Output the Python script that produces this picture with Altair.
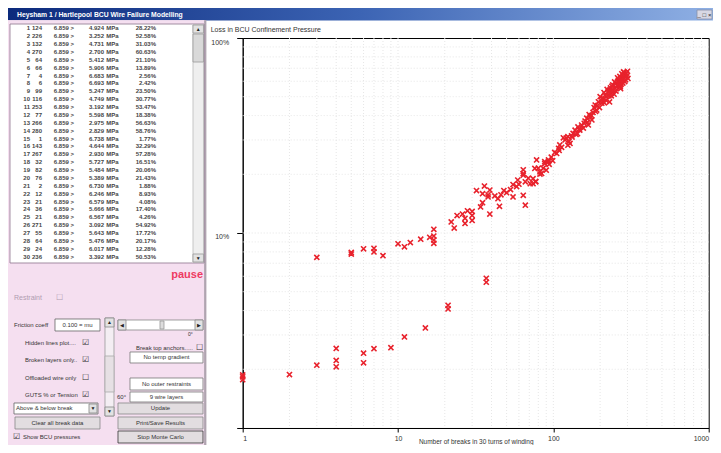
import altair as alt
import pandas as pd

# ---------------- scatter data: breaks vs loss in BCU confinement pressure (%) ----------------
low_breaks = [1, 1, 3, 4, 4, 6, 7, 9, 11, 15, 37, 37]
low_loss = [1.83, 1.87, 2.10, 2.22, 2.06, 2.16, 2.55, 2.58, 2.93, 3.26, 5.86, 5.59]

mid_breaks = [3, 5, 5, 6, 7, 7, 8, 10, 11, 14, 16, 17, 17, 17, 17]
mid_loss = [7.5, 7.8, 7.95, 8.3, 8.35, 8.0, 7.65, 8.8, 8.5, 9.3, 9.5, 9.65, 9.2, 8.85, 10.45]

up_breaks = [22, 23, 26, 27, 28, 27, 30, 30, 30, 34, 35, 35, 38, 39, 39, 38, 44, 45, 46, 50,
             53, 55, 58, 59, 64, 66, 64, 69, 71, 74, 77, 78, 80, 82, 84, 88, 88, 93, 93, 102,
             108, 110, 119, 124, 128, 134, 138, 144, 152, 156, 164, 173, 177, 186, 195, 205, 200, 210, 215, 225,
             230, 236, 241, 254, 262, 275, 281, 288, 295, 270, 250, 220, 190, 168, 148, 121, 105, 230, 160, 170,
             180, 183, 192, 198, 208, 212, 218, 222, 228, 233, 238, 244, 248, 256, 259, 265, 268, 273, 278, 284,
             286, 290, 292, 298, 300, 302, 283, 276, 262, 246, 239, 213, 203, 187, 176, 166, 158, 146, 140, 131,
             126, 113, 109, 97, 94, 86, 90, 74, 60, 48, 42]
up_loss = [11.4, 10.6, 12.5, 11.9, 13.0, 11.2, 12.9, 12.3, 11.6, 13.6, 14.3, 15.9, 15.3, 16.6, 12.5, 15.7, 15.0, 13.7, 15.7, 16.1,
           16.7, 15.3, 17.3, 18.7, 19.8, 18.3, 15.6, 19.1, 17.9, 17.9, 18.3, 23.7, 21.5, 20.6, 20.2, 23.2, 22.7, 23.7, 23.2, 25.9,
           27.2, 28.3, 30.0, 31.2, 28.8, 32.4, 33.7, 35.0, 35.8, 34.5, 38.8, 39.5, 38.0, 45.3, 47.1, 46.3, 50.0, 49.0, 51.0, 52.9,
           54.0, 52.0, 57.5, 58.6, 60.8, 62.0, 64.5, 59.8, 66.0, 56.2, 55.2, 50.1, 42.7, 35.8, 33.7, 30.7, 25.6, 47.0, 37.5, 40.5,
           41.5, 44.0, 45.0, 44.0, 48.5, 52.5, 48.0, 54.5, 50.5, 55.5, 56.5, 54.0, 59.5, 57.0, 62.5, 59.0, 63.5, 58.0, 60.5, 62.5,
           66.5, 63.5, 61.0, 64.0, 67.5, 62.0, 67.0, 65.5, 57.5, 51.5, 53.5, 46.5, 48.0, 42.0, 40.0, 37.0, 36.5, 34.0, 32.0, 31.5,
           29.5, 27.5, 26.5, 24.5, 22.5, 21.5, 21.0, 19.0, 17.8, 16.5, 15.5]

# ---------------- list box (30 latest Monte Carlo runs) ----------------
tbl_breaks = [124, 226, 132, 270, 64, 66, 4, 6, 99, 116, 253, 77, 266, 280, 1,
              143, 267, 32, 82, 76, 2, 12, 21, 36, 21, 271, 55, 64, 24, 236]
tbl_start = "6.859 >"
tbl_mpa = [4.924, 3.252, 4.731, 2.700, 5.412, 5.906, 6.683, 6.693, 5.247, 4.749, 3.192, 5.598, 2.975, 2.829, 6.738,
           4.644, 2.930, 5.727, 5.484, 5.389, 6.730, 6.246, 6.579, 5.666, 6.567, 3.092, 5.643, 5.476, 6.017, 3.392]
tbl_pct = [28.22, 52.58, 31.03, 60.63, 21.10, 13.89, 2.56, 2.42, 23.50, 30.77, 53.47, 18.38, 56.63, 58.76, 1.77,
           32.29, 57.28, 16.51, 20.06, 21.43, 1.88, 8.93, 4.08, 17.40, 4.26, 54.92, 17.72, 20.17, 12.28, 50.53]

x_ticks = [1, 10, 100, 1000]
y_ticks = [1, 10, 100]
grid_x = [2, 3, 4, 5, 6, 7, 8, 9, 10, 20, 30, 40, 50, 60, 70, 80, 90, 100, 200, 300, 400, 500, 600, 700, 800, 900]
grid_y = [2, 3, 4, 5, 6, 7, 8, 9, 10, 20, 30, 40, 50, 60, 70, 80, 90]

window_title = "Heysham 1 / Hartlepool BCU Wire Failure Modelling"
chart_title = "Loss in BCU Confinement Pressure"
x_title = "Number of breaks in 30 turns of winding"

# ---------------- layout (page pixels) ----------------
OX, OY = 242.7, 38.0   # page position of plot origin
W, H = 466, 390
FONT = "Liberation Sans"
PINK = "#f5dff0"
RED = "#e8222c"


def px(v):
    return round(v - OX, 2)


def py(v):
    return round(v - OY, 2)


scatter_df = pd.DataFrame({
    "breaks": low_breaks + mid_breaks + up_breaks + tbl_breaks,
    "loss": low_loss + mid_loss + up_loss + tbl_pct,
})

xscale = alt.Scale(type="log", domain=[1, 1000], nice=False)
yscale = alt.Scale(type="log", domain=[1, 100], nice=False)

x_axis = alt.Axis(values=x_ticks, labelExpr="format(datum.value, 'd')", labelFlush=True,
                  tickSize=4, labelPadding=3, titleY=14, titleBaseline="middle",
                  titleFontWeight="normal", titleFontSize=6.5, titleFont=FONT, titleColor="#333333")
y_axis = alt.Axis(values=y_ticks,
                  labelExpr="datum.value >= 10 ? format(datum.value, 'd') + '%' : ''",
                  tickSize=6, labelPadding=8, labelBaseline="top")

gx = alt.Chart(pd.DataFrame({"gx": grid_x})).mark_rule(
    color="#e6e6e6", strokeDash=[1, 2], strokeWidth=1
).encode(x=alt.X("gx:Q", scale=xscale, title=x_title, axis=x_axis))

gy = alt.Chart(pd.DataFrame({"gy": grid_y})).mark_rule(
    color="#e6e6e6", strokeDash=[1, 2], strokeWidth=1
).encode(y=alt.Y("gy:Q", scale=yscale, title=None, axis=y_axis))

scatter = alt.Chart(scatter_df).mark_point(
    shape="M-1,-1L1,1M-1,1L1,-1", filled=False, color=RED, strokeWidth=1.6, size=26, opacity=1
).encode(
    x=alt.X("breaks:Q", scale=xscale, title=x_title, axis=x_axis),
    y=alt.Y("loss:Q", scale=yscale, title=None, axis=y_axis),
)

# ---------------- window chrome ----------------
titlebar = alt.Chart(pd.DataFrame({"k": [0]})).mark_rect(
    color=alt.LinearGradient(gradient="linear", x1=0, x2=1, y1=0, y2=0,
                             stops=[alt.GradientStop(color="#0c2a7c", offset=0),
                                    alt.GradientStop(color="#3c64b4", offset=0.5),
                                    alt.GradientStop(color="#8fb0e4", offset=1)])
).encode(x=alt.value(px(8)), x2=alt.value(px(713)), y=alt.value(py(8)), y2=alt.value(py(20.5)))

rects = [
    # x, y, x2, y2, fill, stroke (page pixels)
    (8, 20.5, 205, 446, PINK, PINK),
    (204.5, 20.5, 206, 446, "#b0a4b0", "#b0a4b0"),
    (697, 10, 712, 19, "#d8d8e4", "#8890a8"),
    (10, 24, 204, 263, "#ffffff", "#8c748c"),
    (193, 25, 203.5, 262, "#efefef", "#bbbbbb"),
    (193, 25, 203.5, 33, "#e2e2e2", "#999999"),
    (193, 34, 203.5, 62, "#d9d9d9", "#999999"),
    (193, 254, 203.5, 262, "#e2e2e2", "#999999"),
    (55, 319, 100, 331, "#ffffff", "#666666"),
    (105, 318, 114, 416, "#f4eef3", "#999999"),
    (105, 318, 114, 327, "#e2e2e2", "#888888"),
    (105, 356, 114, 392, "#e6e0e4", "#aaaaaa"),
    (105, 407, 114, 416, "#e2e2e2", "#888888"),
    (118, 320, 203, 330, "#ffffff", "#888888"),
    (118, 320, 126, 330, "#e2e2e2", "#888888"),
    (195, 320, 203, 330, "#e2e2e2", "#888888"),
    (160, 321, 164, 329, "#dddddd", "#999999"),
    (14, 403, 98, 414, "#ffffff", "#666666"),
    (89, 404, 97, 413, "#e2e2e2", "#888888"),
    (15, 417, 100, 429, "#e2dde0", "#888888"),
    (130, 352, 203, 363, "#ffffff", "#777777"),
    (130, 378, 203, 390, "#ffffff", "#777777"),
    (130, 392, 203, 402, "#ffffff", "#777777"),
    (118, 403, 203, 414, "#e2dde0", "#888888"),
    (118, 417, 203, 429, "#e2dde0", "#888888"),
    (118, 431, 203, 443, "#e2dde0", "#333333"),
]
rect_df = pd.DataFrame(rects, columns=["x", "y", "x2", "y2", "fill", "stroke"])
rect_df["x"] = rect_df["x"].map(px)
rect_df["x2"] = rect_df["x2"].map(px)
rect_df["y"] = rect_df["y"].map(py)
rect_df["y2"] = rect_df["y2"].map(py)
rect_layer = alt.Chart(rect_df).mark_rect(strokeWidth=0.8).encode(
    x=alt.X("x:Q", scale=None, axis=None), x2="x2:Q",
    y=alt.Y("y:Q", scale=None, axis=None), y2="y2:Q",
    fill=alt.Fill("fill:N", scale=None), stroke=alt.Stroke("stroke:N", scale=None),
)


def text_layer(rows, align, weight="normal", font=FONT):
    df = pd.DataFrame(rows, columns=["t", "x", "y", "c", "s"])
    df["x"] = df["x"].map(px)
    df["y"] = df["y"].map(py)
    return alt.Chart(df).mark_text(align=align, baseline="middle", font=font, fontWeight=weight).encode(
        x=alt.X("x:Q", scale=None, axis=None), y=alt.Y("y:Q", scale=None, axis=None),
        text="t:N", color=alt.Color("c:N", scale=None), size=alt.Size("s:Q", scale=None),
    )


TXT = "#333333"
left_txt = text_layer([
    (chart_title, 210.7, 29.5, TXT, 7),
    ("Restraint", 14, 298, "#b09cb0", 7), ("\u2610", 56, 298, "#b09cb0", 8),
    ("Friction coeff", 14, 325, TXT, 6),
    ("Hidden lines plot....", 25, 343, TXT, 6), ("\u2611", 82, 343, TXT, 8),
    ("Broken layers only..", 25, 360, TXT, 6), ("\u2611", 82, 360, TXT, 8),
    ("Offloaded wire only", 25, 378, TXT, 6), ("\u2610", 82, 378, TXT, 8),
    ("GUTS % or Tension", 25, 395, TXT, 6), ("\u2611", 82, 395, TXT, 8),
    ("Above & below break", 16, 408.5, TXT, 6),
    ("\u2611", 13, 437, TXT, 8), ("Show BCU pressures", 23, 437, TXT, 6),
    ("Break top anchors.....", 136, 348, TXT, 6), ("\u2610", 196, 348, TXT, 8),
    ("60\u00b0", 117, 397, TXT, 6),
    ("0\u00b0", 188, 334.5, TXT, 5),
], "left")
center_txt = text_layer([
    ("0.100 = mu", 77.5, 325, TXT, 6),
    ("Clear all break data", 57.5, 423, TXT, 6),
    ("No temp gradient", 166.5, 357.5, TXT, 6),
    ("No outer restraints", 166.5, 384, TXT, 6),
    ("9 wire layers", 166.5, 397, TXT, 6),
    ("Update", 160.5, 408.5, TXT, 6),
    ("Print/Save Results", 160.5, 423, TXT, 6),
    ("Stop Monte Carlo", 160.5, 437, TXT, 6),
    ("\u25b2", 198.2, 29, "#222222", 5), ("\u25bc", 198.2, 258, "#222222", 5),
    ("\u25b2", 109.5, 322.5, "#222222", 5), ("\u25bc", 109.5, 411.5, "#222222", 5),
    ("\u25c0", 122, 325, "#222222", 5), ("\u25b6", 199, 325, "#222222", 5),
    ("\u25bc", 93, 408.5, "#222222", 5),
    ("_ \u25a1 \u00d7", 704.5, 14.5, "#222222", 6),
], "center")
pause_txt = text_layer([("pause", 203, 275, "#ee3a62", 11)], "right", "bold")
title_txt = text_layer([(window_title, 17, 14.5, "#ffffff", 6.8)], "left", "bold")

# list box rows: one text per column, right aligned at the column edge
col_edges = [30, 42, 74, 104, 118.5, 156]
ROW0, ROW_PITCH = 28.3, 7.876
rows = []
for i in range(30):
    texts = [str(i + 1), str(tbl_breaks[i]), tbl_start, f"{tbl_mpa[i]:.3f}", "MPa", f"{tbl_pct[i]:.2f}%"]
    for t, cx in zip(texts, col_edges):
        rows.append({"cy": py(ROW0 + i * ROW_PITCH), "cx": px(cx), "t": t})
table = alt.Chart(pd.DataFrame(rows)).mark_text(
    align="right", baseline="middle", font=FONT, fontWeight="bold", fontSize=6, color="#464646"
).encode(
    x=alt.X("cx:Q", scale=None, axis=None),
    y=alt.Y("cy:Q", scale=None, axis=None),
    text="t:N",
)

chart = alt.layer(
    titlebar, rect_layer, left_txt, center_txt, pause_txt, title_txt, table, gx, gy, scatter
).properties(
    width=W, height=H,
    padding={"left": 234.7, "top": 30, "right": 4, "bottom": 17},
    autosize=alt.AutoSizeParams(type="none"),
).configure(background="white", font=FONT).configure_view(
    stroke="black", strokeWidth=1
).configure_axis(
    domainColor="black", tickColor="black", labelColor="#333333", labelFont=FONT,
    labelFontSize=7, grid=False,
)

chart.save("out.html", embed_options={"renderer": "svg", "actions": False})
